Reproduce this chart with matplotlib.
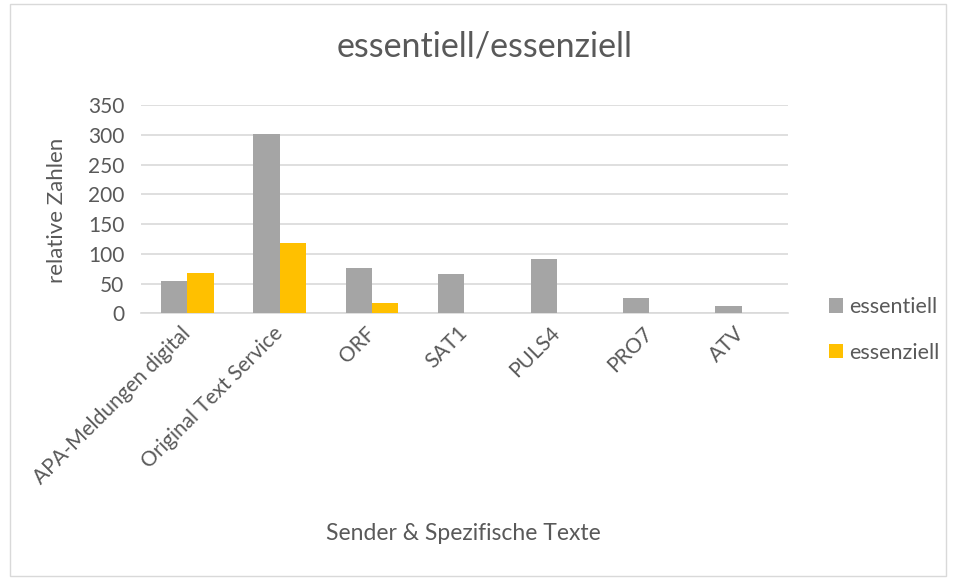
import numpy as np
import matplotlib
matplotlib.use('Agg')
import matplotlib.pyplot as plt
from matplotlib.patches import Rectangle

# --- Data ---
categories = ['APA-Meldungen digital', 'Original Text Service', 'ORF', 'SAT1',
              'PULS4', 'PRO7', 'ATV']
essentiell = [55, 302, 76, 66, 92, 25, 13]
essenziell = [68, 118, 18, 0, 0, 0, 0]
series_names = ['essentiell', 'essenziell']

# --- Style ---
plt.rcParams['font.family'] = ['Lato', 'DejaVu Sans']
text_color = '#595959'
grid_color = '#D9D9D9'
colors = ['#A5A5A5', '#FFC000']

fig = plt.figure(figsize=(9.56, 5.78), dpi=100)
ax = fig.add_axes([141 / 956, 1 - 313.3 / 578, (788 - 141) / 956, (313.3 - 105.3) / 578])

x = np.arange(len(categories))
width = 1 / 3.5
ax.bar(x - width / 2, essentiell, width, color=colors[0], label=series_names[0], zorder=3)
ax.bar(x + width / 2, essenziell, width, color=colors[1], label=series_names[1], zorder=3)

ax.set_xlim(-0.5, len(categories) - 0.5)
ax.set_ylim(0, 350)
ax.set_yticks(range(0, 351, 50))
ax.yaxis.grid(True, color=grid_color, linewidth=1.2, zorder=0)
for side in ['top', 'right', 'left']:
    ax.spines[side].set_visible(False)
ax.spines['bottom'].set_color(grid_color)
ax.spines['bottom'].set_linewidth(1.2)
ax.tick_params(axis='both', length=0, colors=text_color, labelsize=15)
ax.tick_params(axis='x', pad=12)
ax.tick_params(axis='y', pad=12)

ax.set_xticks(x)
ax.set_xticklabels(categories, rotation=45, ha='right', va='center',
                   rotation_mode='anchor')

fig.text(57 / 956, 1 - 210 / 578, 'relative Zahlen', color=text_color,
         fontsize=16, ha='center', va='center', rotation=90)
fig.text(463 / 956, 1 - 533 / 578, 'Sender & Spezifische Texte', color=text_color,
         fontsize=16.5, ha='center', va='center')
fig.text(485 / 956, 1 - 47 / 578, 'essentiell/essenziell', color=text_color,
         fontsize=24.5, ha='center', va='center')

ax.legend(loc='upper left', bbox_to_anchor=(829 / 956, 1 - 297 / 578),
          bbox_transform=fig.transFigure, frameon=False, fontsize=15.5,
          labelcolor=text_color, handlelength=0.65, handleheight=0.65,
          handletextpad=0.3, labelspacing=1.2, borderpad=0, borderaxespad=0)

# chart border
fig.patches.append(Rectangle((10 / 956, 2 / 578), 936 / 956, 572 / 578,
                             transform=fig.transFigure, fill=False,
                             edgecolor=grid_color, linewidth=1))

fig.savefig('out.png', dpi=100)
